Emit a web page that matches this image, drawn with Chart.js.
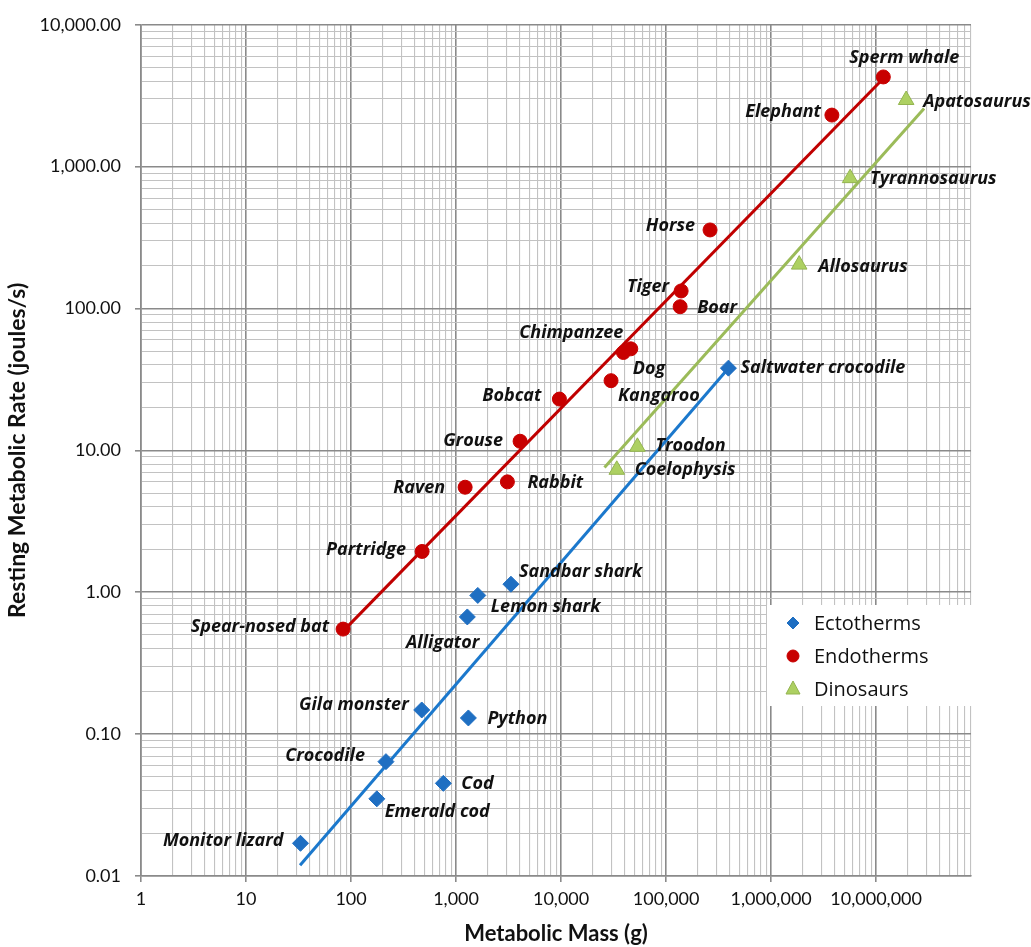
<!DOCTYPE html>
<html>
<head>
<meta charset="utf-8">
<script src="https://cdn.jsdelivr.net/npm/chart.js@4.4.1/dist/chart.umd.min.js"></script>
<style>
  html, body { margin: 0; padding: 0; background: #fff; }
  #wrap { width: 1031px; height: 947px; }
</style>
</head>
<body>
<div id="wrap"><canvas id="metabolicChart" width="1031" height="947"></canvas></div>
<script>
// --------- Data --------

// Ectotherms
const ectoNames = ['Monitor lizard', 'Emerald cod', 'Crocodile', 'Cod', 'Gila monster', 'Python',
                   'Alligator', 'Lemon shark', 'Sandbar shark', 'Saltwater crocodile'];
const ectoMass = [33, 176, 215, 757, 471, 1310, 1280, 1610, 3330, 392000];
const ectoRate = [0.017, 0.035, 0.064, 0.045, 0.148, 0.13, 0.67, 0.95, 1.14, 38];

// Endotherms
const endoNames = ['Spear-nosed bat', 'Partridge', 'Raven', 'Rabbit', 'Grouse', 'Bobcat', 'Kangaroo',
                   'Chimpanzee', 'Dog', 'Tiger', 'Boar', 'Horse', 'Elephant', 'Sperm whale'];
const endoMass = [84, 475, 1220, 3080, 4070, 9640, 29900, 39200, 46100, 139000, 136000, 262000, 3790000, 11700000];
const endoRate = [0.55, 1.94, 5.5, 6.0, 11.6, 23, 31, 49, 52, 133, 103, 358, 2310, 4290];

// Dinosaurs
const dinoNames = ['Coelophysis', 'Troodon', 'Allosaurus', 'Tyrannosaurus', 'Apatosaurus'];
const dinoMass = [33900, 53300, 1850000, 5650000, 19300000];
const dinoRate = [7.3, 10.6, 204, 830, 2950];

// Trend lines (power fits, end points)
const ectoTrendMass = [32.7, 392000];
const ectoTrendRate = [0.0119, 37.9];
const endoTrendMass = [84, 11700000];
const endoTrendRate = [0.532, 4180];
const dinoTrendMass = [25900, 28600000];
const dinoTrendRate = [7.57, 2575];

// Axis ranges
const xRange = [1, 80000000];
const yRange = [0.01, 10000];

// --------- Helpers --------

const toPoints = (xs, ys) => xs.map((x, i) => ({ x: x, y: ys[i] }));

const isMajor = v => Math.abs(Math.log10(v) - Math.round(Math.log10(v))) < 1e-9;

// every 1..9 x 10^k between min and max
const logTicks = (min, max) => {
    const out = [];
    for (let k = Math.floor(Math.log10(min)); k <= Math.ceil(Math.log10(max)); k++) {
        for (let m = 1; m <= 9; m++) {
            const v = Number((m * Math.pow(10, k)).toPrecision(12));
            if (v >= min * 0.999999 && v <= max * 1.000001) out.push(v);
        }
    }
    return out;
};

// label placement: [dx, dy, align]
const labelPlace = {
    'Sperm whale': [-34, -19, 'left'], 'Elephant': [-11, -3, 'right'], 'Apatosaurus': [17, 2, 'left'],
    'Tyrannosaurus': [20, 1, 'left'], 'Horse': [-15, -4, 'right'], 'Allosaurus': [19, 2, 'left'],
    'Tiger': [-12, -4, 'right'], 'Boar': [17, 1, 'left'], 'Chimpanzee': [0, -20, 'right'],
    'Dog': [2, 20, 'left'], 'Kangaroo': [7, 15, 'left'], 'Bobcat': [-18, -3, 'right'],
    'Grouse': [-17, 0, 'right'], 'Troodon': [18, -1, 'left'], 'Coelophysis': [18, 0, 'left'],
    'Raven': [-20, 1, 'right'], 'Rabbit': [20, 1, 'left'], 'Partridge': [-16, -2, 'right'],
    'Sandbar shark': [8, -12, 'left'], 'Lemon shark': [13, 11, 'left'], 'Alligator': [12, 26, 'right'],
    'Spear-nosed bat': [-14, -2, 'right'], 'Gila monster': [-13, -5, 'right'], 'Python': [19, 1, 'left'],
    'Crocodile': [-21, -6, 'right'], 'Cod': [18, 1, 'left'], 'Emerald cod': [8, 13, 'left'],
    'Monitor lizard': [-17, -2, 'right']
};

const FONT = 'Lato, "Open Sans", sans-serif';
const LABEL_FONT = '"Open Sans", Lato, sans-serif';
const BLUE = '#1f6fc2';
const RED = '#c80000';
const GREEN_FILL = '#add062';
const GREEN_LINE = '#9bbb59';

// --------- Plugins --------

// names next to the points
const pointLabels = {
    id: 'pointLabels',
    afterDatasetsDraw(chart) {
        const ctx = chart.ctx;
        ctx.save();
        ctx.font = 'italic bold 18px ' + LABEL_FONT;
        ctx.fillStyle = '#111';
        ctx.textBaseline = 'middle';
        chart.data.datasets.forEach((ds, di) => {
            if (!ds.names) return;
            const meta = chart.getDatasetMeta(di);
            meta.data.forEach((pt, i) => {
                const place = labelPlace[ds.names[i]] || [12, 0, 'left'];
                ctx.textAlign = place[2];
                ctx.fillText(ds.names[i], pt.x + place[0], pt.y + place[1]);
            });
        });
        ctx.restore();
    }
};

// legend box inside the plot, bottom right
const insideLegend = {
    id: 'insideLegend',
    afterDraw(chart) {
        const ctx = chart.ctx;
        const area = chart.chartArea;
        const boxW = 205, boxH = 101;
        const left = area.right - boxW + 1;
        const top = area.bottom - 271;
        ctx.save();
        ctx.fillStyle = '#fff';
        ctx.fillRect(left, top, boxW, boxH);
        ctx.font = '20px ' + LABEL_FONT;
        ctx.textBaseline = 'middle';
        ctx.textAlign = 'left';
        const items = chart.data.datasets.filter(ds => ds.names);
        items.forEach((ds, i) => {
            const cx = left + 26;
            const cy = top + 18 + i * 33;
            ctx.fillStyle = ds.backgroundColor;
            ctx.strokeStyle = ds.borderColor;
            ctx.lineWidth = 1;
            ctx.beginPath();
            if (ds.pointStyle === 'rectRot') {
                ctx.moveTo(cx - 6, cy); ctx.lineTo(cx, cy - 6); ctx.lineTo(cx + 6, cy); ctx.lineTo(cx, cy + 6);
                ctx.closePath();
            } else if (ds.pointStyle === 'circle') {
                ctx.arc(cx, cy, 6, 0, Math.PI * 2);
            } else {
                ctx.moveTo(cx, cy - 8); ctx.lineTo(cx + 7, cy + 5); ctx.lineTo(cx - 7, cy + 5);
                ctx.closePath();
            }
            ctx.fill();
            ctx.stroke();
            ctx.fillStyle = '#111';
            ctx.fillText(ds.label, left + 47, cy + 1);
        });
        ctx.restore();
    }
};

// --------- Chart --------

const gridColor = c => (c.tick && isMajor(c.tick.value)) ? '#8a8a8a' : '#c2c2c2';
const gridWidth = c => (c.tick && isMajor(c.tick.value)) ? 1.6 : 1.1;
const tickColor = c => (c.tick && isMajor(c.tick.value)) ? '#8a8a8a' : 'rgba(0,0,0,0)';

const trendDataset = (label, xs, ys, color) => ({
    label: label,
    data: toPoints(xs, ys),
    showLine: true,
    borderColor: color,
    borderWidth: 3,
    pointRadius: 0,
    fill: false,
    order: 2
});

const ctxChart = document.getElementById('metabolicChart').getContext('2d');
const metabolicChart = new Chart(ctxChart, {
    type: 'scatter',
    data: {
        datasets: [
            trendDataset('Ecto trend', ectoTrendMass, ectoTrendRate, '#1b78cc'),
            trendDataset('Endo trend', endoTrendMass, endoTrendRate, '#c00000'),
            trendDataset('Dino trend', dinoTrendMass, dinoTrendRate, GREEN_LINE),
            {
                label: 'Ectotherms',
                names: ectoNames,
                data: toPoints(ectoMass, ectoRate),
                pointStyle: 'rectRot',
                pointRadius: 8,
                backgroundColor: BLUE,
                borderColor: BLUE,
                borderWidth: 1,
                order: 1
            },
            {
                label: 'Endotherms',
                names: endoNames,
                data: toPoints(endoMass, endoRate),
                pointStyle: 'circle',
                pointRadius: 7,
                backgroundColor: RED,
                borderColor: RED,
                borderWidth: 1,
                order: 1
            },
            {
                label: 'Dinosaurs',
                names: dinoNames,
                data: toPoints(dinoMass, dinoRate),
                pointStyle: 'triangle',
                pointRadius: 9,
                backgroundColor: GREEN_FILL,
                borderColor: '#93b44f',
                borderWidth: 1,
                order: 1
            }
        ]
    },
    options: {
        responsive: false,
        animation: false,
        layout: { padding: { top: 21, right: 60, left: 0, bottom: 0 } },
        plugins: {
            legend: { display: false },
            tooltip: { enabled: false }
        },
        scales: {
            x: {
                type: 'logarithmic',
                min: xRange[0],
                max: xRange[1],
                afterBuildTicks: s => { s.ticks = logTicks(xRange[0], xRange[1]).map(v => ({ value: v })); },
                afterFit: s => { s.height = 71; },
                ticks: {
                    autoSkip: false,
                    maxRotation: 0,
                    padding: 6,
                    color: '#111',
                    font: { family: FONT, size: 18 },
                    callback: v => isMajor(v) ? Math.round(v).toLocaleString('en-US') : ''
                },
                grid: { color: gridColor, lineWidth: gridWidth, tickColor: tickColor, tickLength: 6 },
                border: { color: '#8a8a8a', width: 1.6 },
                title: {
                    display: true,
                    text: 'Metabolic Mass (g)',
                    color: '#111',
                    font: { family: FONT, size: 22, weight: 'bold' },
                    padding: { top: 0, bottom: 0 }
                }
            },
            y: {
                type: 'logarithmic',
                min: yRange[0],
                max: yRange[1],
                afterBuildTicks: s => { s.ticks = logTicks(yRange[0], yRange[1]).map(v => ({ value: v })); },
                afterFit: s => { s.width = 141; },
                ticks: {
                    autoSkip: false,
                    padding: 14,
                    color: '#111',
                    font: { family: FONT, size: 18 },
                    callback: v => isMajor(v)
                        ? v.toLocaleString('en-US', { minimumFractionDigits: 2, maximumFractionDigits: 2 })
                        : ''
                },
                grid: { color: gridColor, lineWidth: gridWidth, tickColor: tickColor, tickLength: 6 },
                border: { color: '#8a8a8a', width: 1.6 },
                title: {
                    display: true,
                    text: 'Resting Metabolic Rate (joules/s)',
                    color: '#111',
                    font: { family: FONT, size: 23, weight: 'bold' },
                    padding: { top: 4, bottom: 0 }
                }
            }
        }
    },
    plugins: [pointLabels, insideLegend]
});
</script>
</body>
</html>
